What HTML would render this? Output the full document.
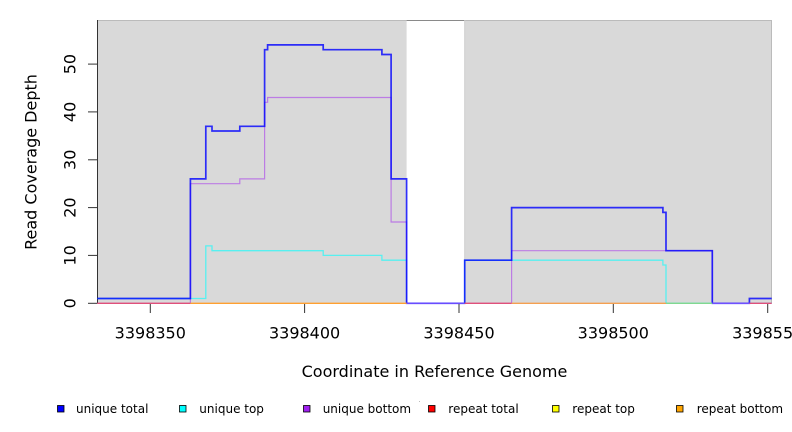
<!DOCTYPE html>
<html><head><meta charset="utf-8"><style>
html,body{margin:0;padding:0;background:#fff;width:792px;height:432px;overflow:hidden}
svg{display:block;font-family:"DejaVu Sans","Liberation Sans",sans-serif}
</style></head><body>
<svg width="792" height="432" viewBox="0 0 792 432" xmlns="http://www.w3.org/2000/svg">
<rect x="97.3" y="20" width="309.3" height="283.3" fill="#d9d9d9"/>
<rect x="464.7" y="20" width="307" height="283.3" fill="#d9d9d9"/>
<line x1="97.3" y1="20.5" x2="406.6" y2="20.5" stroke="#bbbbbb" stroke-width="1"/>
<line x1="406.6" y1="20.5" x2="464.7" y2="20.5" stroke="#8a8a8a" stroke-width="1"/>
<line x1="464.7" y1="20.5" x2="771.7" y2="20.5" stroke="#bbbbbb" stroke-width="1"/>
<line x1="771.5" y1="20" x2="771.5" y2="303.3" stroke="#bbbbbb" stroke-width="1"/>
<line x1="464.7" y1="20" x2="464.7" y2="303.3" stroke="#cfcfcf" stroke-width="1"/>
<line x1="97.5" y1="20" x2="97.5" y2="303.3" stroke="#333" stroke-width="1"/>
<g stroke="#333" stroke-width="1">
<line x1="88" y1="303.3" x2="97.3" y2="303.3"/>
<line x1="88" y1="255.4" x2="97.3" y2="255.4"/>
<line x1="88" y1="207.6" x2="97.3" y2="207.6"/>
<line x1="88" y1="159.8" x2="97.3" y2="159.8"/>
<line x1="88" y1="111.9" x2="97.3" y2="111.9"/>
<line x1="88" y1="64.1" x2="97.3" y2="64.1"/>
</g>
<g stroke="#333" stroke-width="1">
<line x1="150.3" y1="304" x2="150.3" y2="313"/>
<line x1="304.6" y1="304" x2="304.6" y2="313"/>
<line x1="459" y1="304" x2="459" y2="313"/>
<line x1="613.3" y1="304" x2="613.3" y2="313"/>
<line x1="767.7" y1="304" x2="767.7" y2="313"/>
</g>
<g font-size="16" fill="#000" text-anchor="middle">
<text transform="translate(75.5,303.3) rotate(-90)">0</text>
<text transform="translate(75.5,255.4) rotate(-90)">10</text>
<text transform="translate(75.5,207.6) rotate(-90)">20</text>
<text transform="translate(75.5,159.8) rotate(-90)">30</text>
<text transform="translate(75.5,111.9) rotate(-90)">40</text>
<text transform="translate(75.5,64.1) rotate(-90)">50</text>
</g>
<g font-size="16" fill="#000" text-anchor="middle">
<text x="150.3" y="338.5">3398350</text>
<text x="304.6" y="338.5">3398400</text>
<text x="459" y="338.5">3398450</text>
<text x="613.3" y="338.5">3398500</text>
<text x="767.7" y="338.5">3398550</text>
</g>
<text transform="translate(36.5,162) rotate(-90)" font-size="16" text-anchor="middle" fill="#000">Read Coverage Depth</text>
<text x="434.5" y="377" font-size="16" text-anchor="middle" fill="#000">Coordinate in Reference Genome</text>
<path d="M97.3,298.5 H205.8 V245.9 H212 V250.7 H323.2 V255.4 H381.9 V260.2 H406.6 V303.3 H464.7 V260.2 H662.9 V265 H666 V303.3 H771.7" fill="none" stroke="#00ffff" stroke-opacity="0.6" stroke-width="1.3"/>
<path d="M97.3,303.3 H190.4 V183.7 H239.8 V178.9 H264.6 V102.3 H267.6 V97.5 H391.1 V222 H406.6 V303.3 H511.6 V250.7 H712.3 V303.3 H771.7" fill="none" stroke="#a020f0" stroke-opacity="0.5" stroke-width="1.2"/>
<path d="M97.3,298.5 H190.4 V178.9 H205.8 V126.3 H212 V131 H239.8 V126.3 H264.6 V49.7 H267.6 V44.9 H323.2 V49.7 H381.9 V54.5 H391.1 V178.9 H406.6 V303.3 H464.7 V260.2 H511.6 V207.6 H662.9 V212.4 H666 V250.7 H712.3 V303.3 H749.4 V298.5 H771.7" fill="none" stroke="#0000ff" stroke-opacity="0.8" stroke-width="1.7"/>
<g stroke-width="1.3" fill="none">
<line x1="97.3" y1="303.3" x2="190.4" y2="303.3" stroke="#e0507a"/>
<line x1="190.4" y1="303.3" x2="406.6" y2="303.3" stroke="#ffa030"/>
<line x1="406.6" y1="303.3" x2="464.7" y2="303.3" stroke="#6a4cff"/>
<line x1="464.7" y1="303.3" x2="511.6" y2="303.3" stroke="#e0507a"/>
<line x1="511.6" y1="303.3" x2="666" y2="303.3" stroke="#f5a050"/>
<line x1="666" y1="303.3" x2="712.3" y2="303.3" stroke="#80d890"/>
<line x1="712.3" y1="303.3" x2="749.4" y2="303.3" stroke="#7050ff"/>
<line x1="749.4" y1="303.3" x2="771.7" y2="303.3" stroke="#e0507a"/>
</g>
<g stroke="#000" stroke-width="0.8">
<rect x="57.5" y="405.5" width="6.5" height="6.5" fill="#0000ff"/>
<rect x="179.5" y="405.5" width="6.5" height="6.5" fill="#00ffff"/>
<rect x="303.5" y="405.5" width="6.5" height="6.5" fill="#a020f0"/>
<rect x="428.5" y="405.5" width="6.5" height="6.5" fill="#ff0000"/>
<rect x="552.5" y="405.5" width="6.5" height="6.5" fill="#ffff00"/>
<rect x="676.5" y="405.5" width="6.5" height="6.5" fill="#ffa500"/>
</g>
<rect x="419" y="401" width="1" height="1" fill="#bbb"/>
<g font-size="12" fill="#000">
<text x="76" y="413">unique total</text>
<text x="199.3" y="413">unique top</text>
<text x="322.7" y="413">unique bottom</text>
<text x="448.3" y="413">repeat total</text>
<text x="572.3" y="413">repeat top</text>
<text x="696.7" y="413">repeat bottom</text>
</g>
</svg>
</body></html>
